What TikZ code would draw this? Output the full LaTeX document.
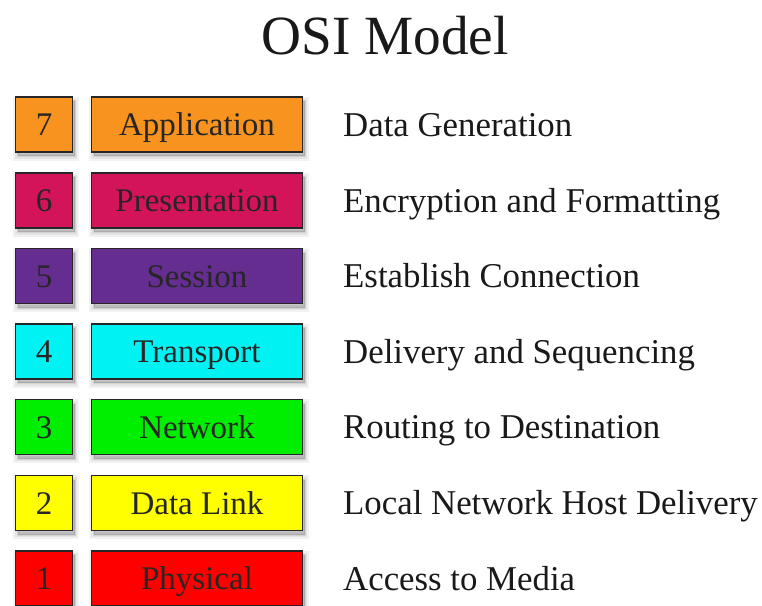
\documentclass[tikz,border=0pt]{standalone}
\usepackage{fontspec}
\setmainfont{Liberation Serif}
\definecolor{cApp}{HTML}{F7931E}
\definecolor{cPre}{HTML}{D4145A}
\definecolor{cSes}{HTML}{662D91}
\definecolor{cTra}{HTML}{00F2F2}
\definecolor{cNet}{HTML}{00EE00}
\definecolor{cDat}{HTML}{FFFF00}
\definecolor{cPhy}{HTML}{FF0000}
\tikzset{
  softshadow/.style={
    preaction={draw=black, draw opacity=0.05, fill=black, fill opacity=0.05, line width=9pt,
      transform canvas={xshift=2pt, yshift=-4pt}},
    preaction={draw=black, draw opacity=0.06, fill=black, fill opacity=0.06, line width=5pt,
      transform canvas={xshift=2pt, yshift=-4pt}},
    preaction={draw=black, draw opacity=0.08, fill=black, fill opacity=0.08, line width=2pt,
      transform canvas={xshift=2pt, yshift=-4pt}}},
  layerbox/.style={softshadow, draw=black!85, line width=1.8pt, inner sep=0pt,
    minimum height=55pt, font=\fontsize{33}{36}\selectfont,
    text height=22pt, text depth=0pt, text=black!85},
  numbox/.style={layerbox, minimum width=57pt},
  namebox/.style={layerbox, minimum width=211pt},
  desc/.style={anchor=base west, inner sep=0pt, font=\fontsize{34.8}{36}\selectfont, text=black!90},
  titletext/.style={anchor=base, inner sep=0pt, font=\fontsize{55.3}{60}\selectfont, text=black!90}
}
\begin{document}
\begin{tikzpicture}[x=1pt, y=-1pt]
\useasboundingbox (0,0) rectangle (762,605);
\node[titletext] (title) at (385,54) {OSI Model};
\foreach \i/\n/\name/\col/\d/\y in {
  7/7/Application/cApp/Data Generation/124.5,
  6/6/Presentation/cPre/Encryption and Formatting/200.5,
  5/5/Session/cSes/Establish Connection/276,
  4/4/Transport/cTra/Delivery and Sequencing/351.5,
  3/3/Network/cNet/Routing to Destination/427,
  2/2/Data Link/cDat/Local Network Host Delivery/503,
  1/1/Physical/cPhy/Access to Media/578.5}{
  \node[numbox, fill=\col] (num\i) at (44,\y) {\n};
  \node[namebox, fill=\col] (name\i) at (197,\y) {\name};
  \node[desc] (desc\i) at (343,\y+11.5) {\d};
}
\end{tikzpicture}
\end{document}
